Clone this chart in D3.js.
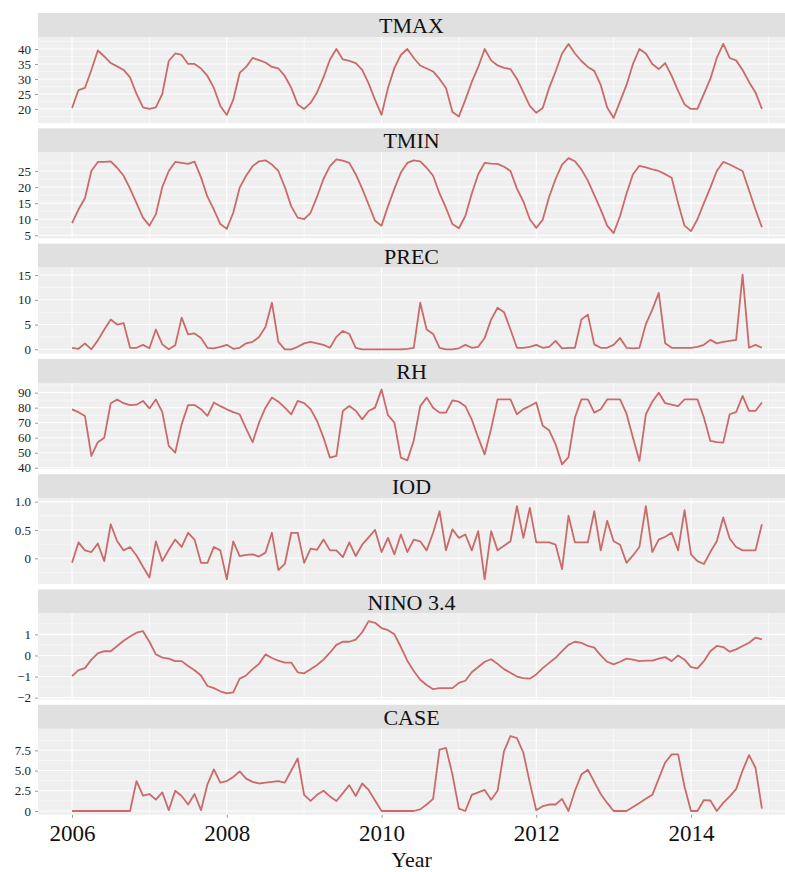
<!DOCTYPE html>
<html>
<head>
<meta charset="utf-8">
<script src="https://cdn.jsdelivr.net/npm/d3@7"></script>
<style>
  body { margin: 0; background: #fff; }
  text { font-family: "Liberation Serif", "DejaVu Serif", serif; }
</style>
</head>
<body>
<div id="chart"></div>
<script>
// monthly series, Jan 2006 .. Dec 2014
const tmax = [
  20.3, 26.3, 27, 33, 39.5, 37.5, 35.3, 34.2, 33, 30.5, 25, 20.5,
  20, 20.5, 25, 36, 38.5, 38, 35, 35, 33.5, 31, 27, 21,
  18, 23, 32, 34, 37, 36.3, 35.5, 34, 33.5, 31, 27, 21.5,
  20, 22, 25.5, 30.5, 36.5, 40, 36.5, 36, 35.3, 33, 28.5, 23,
  18, 27, 33.7, 38, 40, 37, 34.5, 33.5, 32.5, 30, 27, 19,
  17.5, 23, 29, 34, 40, 36.2, 34.5, 33.7, 33.3, 30, 25.5, 21,
  18.7, 20.3, 27, 32.5, 38.5, 41.7, 38.5, 36, 34, 32.7, 28, 20.5,
  17, 22.5, 28, 35, 40, 38.5, 35, 33.3, 35.3, 31, 26, 21.5,
  20, 20, 25, 30, 37, 41.7, 37, 36.2, 33, 29, 25.5, 20
];
const tmin = [
  8.8, 13, 16.5, 25, 27.8, 27.8, 28, 26, 23.5, 19.5, 15, 10.5,
  8, 11.5, 20, 25, 27.8, 27.5, 27.2, 27.9, 23, 17, 13, 8.5,
  7, 12, 19.8, 23.5, 26.5, 28, 28.3, 27, 25, 20, 14, 10.5,
  10, 12, 17, 22.5, 26.5, 28.6, 28.2, 27.5, 24, 19.5, 14.5, 9.5,
  8, 14, 19.5, 24.5, 27.5, 28.3, 28, 26, 23.5, 18, 13.5, 8.5,
  7.2, 11, 18, 24, 27.5, 27.3, 27.2, 26.3, 25, 19.5, 15.5, 10,
  7.3, 9.8, 17, 22.5, 27, 29, 28, 25.5, 22, 17.5, 13, 8,
  5.7, 11, 18, 24, 26.6, 26.1, 25.5, 25, 24, 22.9, 15, 8,
  6.3, 10, 15, 19.8, 25, 27.8, 27, 26, 25, 19, 13, 7.5
];
const prec = [
  0.3, 0.1, 1.2, 0, 1.8, 4, 6, 5, 5.3, 0.3, 0.3, 0.9,
  0.2, 4, 1, 0, 0.8, 6.4, 3, 3.2, 2.3, 0.3, 0.2, 0.5,
  0.9, 0.1, 0.3, 1.2, 1.5, 2.5, 4.5, 9.4, 1.5, 0, 0, 0.5,
  1.2, 1.5, 1.2, 0.9, 0.3, 2.5, 3.7, 3.1, 0.3, 0, 0, 0,
  0, 0, 0, 0, 0.1, 0.3, 9.4, 4, 3.1, 0.3, 0, 0,
  0.2, 0.9, 0.3, 0.5, 2.3, 6, 8.4, 7.5, 4, 0.3, 0.3, 0.5,
  0.9, 0.3, 0.5, 1.7, 0.2, 0.3, 0.3, 6, 7, 1, 0.3, 0.3,
  0.9, 2.3, 0.3, 0.2, 0.3, 5.1, 8, 11.4, 1.2, 0.3, 0.3, 0.3,
  0.3, 0.5, 0.9, 1.9, 1.2, 1.5, 1.7, 1.9, 15.1, 0.3, 0.9, 0.3
];
const rh = [
  78.9, 77, 74.5, 47.8, 57, 60, 83, 85.5, 83, 81.7, 82, 84.5,
  79.5, 85.5, 77, 54.5, 50, 69, 81.7, 81.7, 79, 74.5, 83.4, 81,
  78.9, 77, 75.6, 66, 57, 70, 80, 86.7, 84, 80, 75.6, 84.5,
  83, 79, 71.1, 60, 46.7, 47.8, 77.8, 81.1, 78, 72.2, 77.8, 80,
  92.2, 75, 70, 46.7, 44.9, 58, 81, 86.7, 80, 76.7, 76.7, 84.9,
  84, 81, 72, 60, 48.9, 66, 85.5, 85.5, 85.5, 75.6, 79, 81.1,
  83.4, 68, 64.9, 55.6, 42.2, 47, 73.4, 85.5, 85.5, 76.7, 78.9, 85.5,
  85.5, 85.5, 76, 60, 44.5, 75.6, 84, 90, 83, 82, 81.1, 85.5,
  85.5, 85.5, 73.4, 57.8, 57, 56.7, 75.6, 77, 87.8, 77.8, 77.8, 83.4
];
const iod = [
  -0.08, 0.28, 0.14, 0.11, 0.26, -0.05, 0.6, 0.3, 0.14, 0.2, 0.05, -0.15,
  -0.34, 0.3, -0.05, 0.15, 0.33, 0.2, 0.45, 0.33, -0.08, -0.08, 0.2, 0.14,
  -0.37, 0.3, 0.04, 0.06, 0.07, 0.03, 0.1, 0.45, -0.21, -0.1, 0.45, 0.45,
  -0.08, 0.17, 0.15, 0.33, 0.14, 0.14, 0.02, 0.28, 0.04, 0.24, 0.37, 0.5,
  0.11, 0.36, 0.07, 0.42, 0.11, 0.33, 0.3, 0.14, 0.45, 0.83, 0.14, 0.51,
  0.36, 0.42, 0.14, 0.48, -0.37, 0.48, 0.14, 0.22, 0.3, 0.92, 0.36, 0.89,
  0.28, 0.28, 0.28, 0.24, -0.19, 0.75, 0.28, 0.28, 0.28, 0.83, 0.14, 0.66,
  0.3, 0.24, -0.08, 0.05, 0.2, 0.92, 0.11, 0.33, 0.38, 0.45, 0.14, 0.85,
  0.07, -0.05, -0.1, 0.11, 0.3, 0.72, 0.35, 0.2, 0.14, 0.14, 0.14, 0.6
];
const nino = [
  -0.98, -0.7, -0.6, -0.2, 0.1, 0.2, 0.2, 0.45, 0.7, 0.9, 1.08, 1.15,
  0.65, 0.05, -0.1, -0.15, -0.27, -0.27, -0.5, -0.7, -0.95, -1.45, -1.55, -1.7,
  -1.8, -1.75, -1.1, -0.95, -0.65, -0.4, 0.05, -0.12, -0.25, -0.34, -0.34, -0.8,
  -0.85, -0.65, -0.45, -0.2, 0.13, 0.5, 0.65, 0.65, 0.75, 1.1, 1.63, 1.55,
  1.3, 1.2, 1.0, 0.4, -0.25, -0.74, -1.15, -1.4, -1.6, -1.55, -1.55, -1.55,
  -1.3, -1.2, -0.8, -0.55, -0.3, -0.18, -0.4, -0.65, -0.82, -1.0, -1.08, -1.1,
  -0.9, -0.6, -0.35, -0.11, 0.2, 0.5, 0.65, 0.6, 0.45, 0.37, 0.0, -0.3,
  -0.42, -0.3, -0.15, -0.2, -0.27, -0.25, -0.25, -0.15, -0.08, -0.27, 0.0, -0.2,
  -0.55, -0.61, -0.27, 0.2, 0.45, 0.4, 0.18, 0.29, 0.45, 0.6, 0.84, 0.76
];
const cases = [
  0, 0, 0, 0, 0, 0, 0, 0, 0, 0, 3.7, 1.9,
  2.1, 1.4, 2.3, 0.1, 2.5, 1.85, 0.8, 2.1, 0.1, 3.3, 5.15, 3.5,
  3.7, 4.2, 4.9, 4, 3.6, 3.4, 3.5, 3.6, 3.7, 3.5, 5, 6.5,
  2, 1.24, 2, 2.5, 1.8, 1.24, 2.2, 3.2, 1.85, 3.4, 2.6, 1.3,
  0, 0, 0, 0, 0, 0, 0.2, 0.8, 1.5, 7.6, 7.8, 4.5,
  0.3, 0, 2, 2.3, 2.6, 1.4, 2.5, 7.4, 9.27, 9, 7.2, 3.5,
  0.1, 0.6, 0.8, 0.8, 1.5, 0, 2.5, 4.5, 5.1, 3.6, 2.1, 1,
  0, 0, 0, 0.5, 1, 1.5, 2, 4, 6, 7, 7, 3,
  0, 0, 1.35, 1.3, 0, 1, 1.8, 2.7, 5, 6.9, 5.35, 0.3
];

const facetNames = ["TMAX", "TMIN", "PREC", "RH", "IOD", "NINO 3.4", "CASE"];
const facetSeries = [tmax, tmin, prec, rh, iod, nino, cases];
const yDomains = [[15.3, 44], [4.07, 30.8], [-0.87, 16.5], [39.2, 96.5], [-0.457, 1.06], [-2.09, 1.99], [-0.47, 10.16]];
const yTicks = [
  [20, 25, 30, 35, 40],
  [5, 10, 15, 20, 25],
  [0, 5, 10, 15],
  [40, 50, 60, 70, 80, 90],
  [0, 0.5, 1.0],
  [-2, -1, 0, 1],
  [0, 2.5, 5.0, 7.5]
];
const yTickFormats = ["d", "d", "d", "d", ".1f", "d", ".1f"];
const xTickYears = [2006, 2008, 2010, 2012, 2014];
const gridYears = [2006, 2007, 2008, 2009, 2010, 2011, 2012, 2013, 2014, 2015];

const W = 785, H = 872;
const left = 38, right = 785;
const top0 = 13, facetStep = 115.3, stripH = 24, panelH = 86;
const serif = '"Liberation Serif", "DejaVu Serif", serif';

const svg = d3.select("#chart").append("svg")
    .attr("width", W)
    .attr("height", H);

const x = d3.scaleLinear()
    .domain([2005.56, 2015.215])
    .range([left, right]);

const monthDate = i => 2006 + i / 12;

facetSeries.forEach((series, i) => {
    const g = svg.append("g")
        .attr("transform", `translate(0,${top0 + i * facetStep})`);

    // strip
    g.append("rect")
        .attr("x", left).attr("y", 0)
        .attr("width", right - left).attr("height", stripH)
        .attr("fill", "#e0e0e0");
    g.append("text")
        .attr("x", (left + right) / 2)
        .attr("y", stripH - 4)
        .attr("text-anchor", "middle")
        .attr("font-family", serif)
        .style("font-size", "22px")
        .attr("fill", "#111")
        .text(facetNames[i]);

    const p = g.append("g").attr("transform", `translate(0,${stripH})`);
    const y = d3.scaleLinear().domain(yDomains[i]).range([panelH, 0]);

    p.append("rect")
        .attr("x", left).attr("y", 0)
        .attr("width", right - left).attr("height", panelH)
        .attr("fill", "#efefef");

    // minor + major horizontal grid
    const ticks = yTicks[i];
    const step = ticks[1] - ticks[0];
    const minor = d3.range(ticks[0] - step / 2, ticks[ticks.length - 1] + step, step)
        .filter(v => y(v) >= 0 && y(v) <= panelH);
    p.selectAll(".hminor")
        .data(minor)
        .enter()
        .append("line")
            .attr("x1", left).attr("x2", right)
            .attr("y1", d => y(d)).attr("y2", d => y(d))
            .attr("stroke", "#fbfbfb")
            .style("stroke-width", 0.6);
    p.selectAll(".hmajor")
        .data(ticks)
        .enter()
        .append("line")
            .attr("x1", left).attr("x2", right)
            .attr("y1", d => y(d)).attr("y2", d => y(d))
            .attr("stroke", "#ffffff")
            .style("stroke-width", 1.1);

    p.selectAll(".vgrid")
        .data(gridYears)
        .enter()
        .append("line")
            .attr("x1", d => x(d)).attr("x2", d => x(d))
            .attr("y1", 0).attr("y2", panelH)
            .attr("stroke", "#ffffff")
            .style("stroke-width", d => d % 2 === 0 ? 1.1 : 0.6);

    const line = d3.line()
        .x((d, j) => x(monthDate(j)))
        .y(d => y(d));

    p.append("path")
        .datum(series)
        .attr("fill", "none")
        .attr("stroke", "#c96b6b")
        .attr("stroke-width", 1.8)
        .attr("stroke-linejoin", "round")
        .attr("d", line);

    // y axis
    p.append("g")
        .attr("transform", `translate(${left},0)`)
        .call(d3.axisLeft(y).tickValues(ticks).tickFormat(d => d === 0 ? "0" : d3.format(yTickFormats[i])(d))
            .tickSize(3).tickPadding(4))
        .call(a => a.select(".domain").remove())
        .call(a => a.selectAll("line").attr("stroke", "#999"))
        .call(a => a.selectAll("text")
            .attr("font-family", serif)
            .style("font-size", "13px")
            .attr("fill", "#222"));

    if (i === facetSeries.length - 1) {
        p.append("g")
            .attr("transform", `translate(0,${panelH})`)
            .call(d3.axisBottom(x).tickValues(xTickYears).tickFormat(d3.format("d"))
                .tickSize(3).tickPadding(7))
            .call(a => a.select(".domain").remove())
            .call(a => a.selectAll("line").attr("stroke", "#999"))
            .call(a => a.selectAll("text")
                .attr("font-family", serif)
                .style("font-size", "23px")
                .attr("fill", "#111"));
    }
});

svg.append("text")
    .attr("x", (left + right) / 2)
    .attr("y", 867)
    .attr("text-anchor", "middle")
    .attr("font-family", serif)
    .style("font-size", "22px")
    .attr("fill", "#111")
    .text("Year");
</script>
</body>
</html>
